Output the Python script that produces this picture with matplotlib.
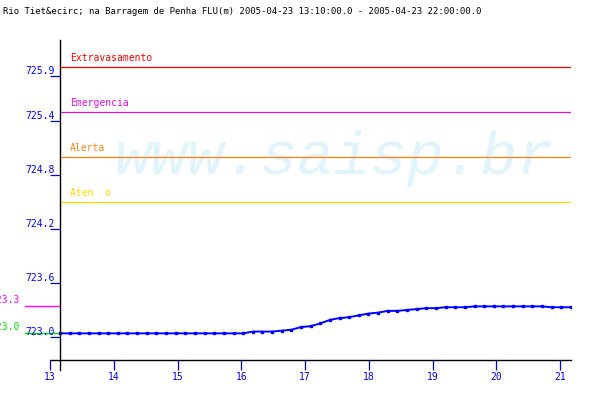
import numpy as np
import matplotlib
matplotlib.use("Agg")
import matplotlib.pyplot as plt

title = "Rio Tiet&ecirc; na Barragem de Penha FLU(m) 2005-04-23 13:10:00.0 - 2005-04-23 22:00:00.0"

# water level readings every 10 min from 13:10
levels = [723.04] * 20 + [
    723.06, 723.06, 723.06, 723.07, 723.08, 723.11, 723.12, 723.15, 723.19, 723.21,
    723.22, 723.24, 723.26, 723.27, 723.29, 723.29, 723.30, 723.31, 723.32, 723.32,
    723.33, 723.33, 723.33, 723.34, 723.34, 723.34, 723.34, 723.34, 723.34, 723.34,
    723.34, 723.33, 723.33, 723.33]

threshold_names = ["Extravasamento", "Emergencia", "Alerta", "Aten  o"]
threshold_values = [726.0, 725.5, 725.0, 724.5]
threshold_colors = ["#ff0000", "#e010e0", "#ff8010", "#ffd800"]

ytick_values = [723.0, 723.6, 724.2, 724.8, 725.4, 725.9]
xtick_values = [13, 14, 15, 16, 17, 18, 19, 20, 21]
max_label = "723.3"
min_label = "723.0"

# axis scale: 1 tick unit = 63.75 px, samples 9.64 px apart
px_per_unit = 63.75
x_start = 13 + 10 / px_per_unit
step = 9.64 / px_per_unit
x = x_start + step * np.arange(len(levels))

fig = plt.figure(figsize=(6, 4), dpi=100)
ax = fig.add_axes([50 / 600, 40 / 400, 521 / 600, 320 / 400])
ymin, ymax = 722.744, 726.3
ax.set_ylim(ymin, ymax)
ax.set_xlim(13, 13 + 521 / px_per_unit)

mono = "DejaVu Sans Mono"
fs = 7

for s in ["top", "right", "left"]:
    ax.spines[s].set_visible(False)
ax.spines["bottom"].set_color("black")
ax.spines["bottom"].set_linewidth(1.0)

# vertical axis line at the first sample
ax.plot([x_start, x_start], [ymax, ymin - 10 / 90], color="black", lw=1.0,
        clip_on=False, zorder=5)

# watermark
ax.text(0.545, 0.63, "www.saisp.br", transform=ax.transAxes, ha="center",
        va="center", fontsize=44, family="Liberation Mono", style="italic",
        color="#e0f4fc", zorder=0)

# thresholds
for name, val, col in zip(threshold_names, threshold_values, threshold_colors):
    ax.plot([x_start, ax.get_xlim()[1]], [val, val], color=col, lw=0.9, zorder=2)
    ax.text(x_start + 10 / px_per_unit, val + 0.045, name, color=col,
            fontsize=fs, family=mono, va="bottom", ha="left")

# data
ax.plot(x, levels, color="#0000ff", lw=1.4, marker="s", ms=1.8, zorder=4)

# max / min markers at left
vmax, vmin = max(levels), min(levels)
xl = x_start - 35 / px_per_unit
ax.plot([xl, x_start], [vmax, vmax], color="#ff00ff", lw=1.0, clip_on=False)
ax.plot([xl, x_start], [vmin, vmin], color="#00e000", lw=1.0, clip_on=False)
ax.text(xl - 5 / px_per_unit, vmax + 0.01, max_label, color="#ff00ff", fontsize=fs,
        family=mono, ha="right", va="bottom", clip_on=False)
ax.text(xl - 5 / px_per_unit, vmin + 0.01, min_label, color="#00e000", fontsize=fs,
        family=mono, ha="right", va="bottom", clip_on=False)

# y ticks
ax.set_yticks(ytick_values)
ax.set_yticklabels([])
ax.tick_params(axis="y", direction="in", length=7.2, width=0.9, color="#0000ff",
               left=True)
for v in ytick_values:
    ax.text(5 / 521, v + 0.005, f"{v:.1f}", transform=ax.get_yaxis_transform(),
            color="#0000ff", fontsize=fs, family=mono, ha="right", va="bottom",
            clip_on=False)

# x ticks
ax.set_xticks(xtick_values)
ax.set_xticklabels([str(v) for v in xtick_values], family=mono, fontsize=fs,
                   color="#0000ff")
ax.tick_params(axis="x", direction="out", length=7.2, width=0.9, color="#0000ff",
               pad=1.5)

fig.text(3 / 600, 1 - 11 / 400, title, fontsize=6.4, family=mono, va="center",
         ha="left", color="black")

fig.savefig("out.png", dpi=100)
